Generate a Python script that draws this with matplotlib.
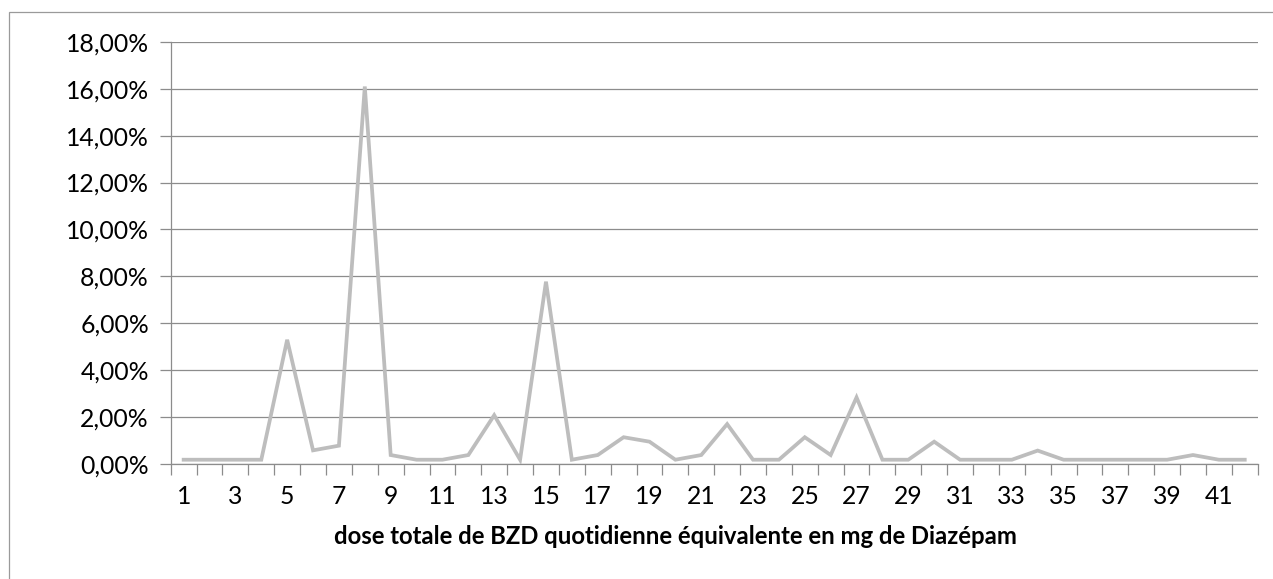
import matplotlib
matplotlib.use("Agg")
import matplotlib.pyplot as plt
from matplotlib.patches import Rectangle
from matplotlib.ticker import FixedLocator, FuncFormatter

# Data (percent)
doses = list(range(1, 43))
pct = [0.17, 0.17, 0.17, 0.17, 5.29, 0.57, 0.77, 16.10, 0.37, 0.17,
       0.17, 0.37, 2.07, 0.17, 7.77, 0.17, 0.37, 1.13, 0.94, 0.17,
       0.37, 1.69, 0.17, 0.17, 1.13, 0.37, 2.83, 0.17, 0.17, 0.94,
       0.17, 0.17, 0.17, 0.56, 0.17, 0.17, 0.17, 0.17, 0.17, 0.37,
       0.17, 0.17]
xlabel = "dose totale de BZD quotidienne équivalente en mg de Diazépam"

W, H = 1273, 579
fig = plt.figure(figsize=(W / 100, H / 100), dpi=100)
FONT = "Lato"

# outer chart-area border (only left & top visible)
fig.patches.append(Rectangle((8.5 / W, -0.1), 1.2, 1 - 11.5 / H + 0.1,
                             transform=fig.transFigure, fill=False,
                             edgecolor="#9a9a9a", linewidth=0.9))

left, right, top, bottom = 170.7, 1257.7, 42.0, 463.7
ax = fig.add_axes([left / W, 1 - bottom / H, (right - left) / W, (bottom - top) / H])

ax.plot(doses, [v / 100 for v in pct], color="#bdbdbd", linewidth=2.7,
        solid_joinstyle="miter", zorder=3)

ax.set_xlim(0.5, 42.5)
ax.set_ylim(0, 0.18)

yt = [i * 0.02 for i in range(10)]
ax.yaxis.set_major_locator(FixedLocator(yt))
ax.yaxis.set_major_formatter(FuncFormatter(lambda v, p: f"{v*100:.2f}%".replace(".", ",")))
ax.grid(axis="y", color="#8c8c8c", linewidth=0.9, zorder=1)

ax.xaxis.set_major_locator(FixedLocator(doses[::2]))
ax.set_xticklabels([str(d) for d in doses[::2]])
ax.xaxis.set_minor_locator(FixedLocator([d + 0.5 for d in range(0, 43)]))
ax.tick_params(axis="x", which="major", length=0, pad=15.5)
ax.tick_params(axis="x", which="minor", length=8, color="#8c8c8c", width=0.9, direction="out")
ax.tick_params(axis="y", length=8, color="#8c8c8c", width=0.9, pad=7.7)

for lab in ax.get_xticklabels() + ax.get_yticklabels():
    lab.set_fontfamily(FONT)
    lab.set_fontsize(17.8)
    lab.set_color("#000000")

for s in ("top", "right"):
    ax.spines[s].set_visible(False)
for s in ("left", "bottom"):
    ax.spines[s].set_color("#8c8c8c")
    ax.spines[s].set_linewidth(0.9)

fig.text(675 / W, 1 - 536 / H, xlabel, ha="center", va="center",
         fontfamily=FONT, fontweight="bold", fontsize=17.2)

fig.savefig("out.png", dpi=100, facecolor="white")
